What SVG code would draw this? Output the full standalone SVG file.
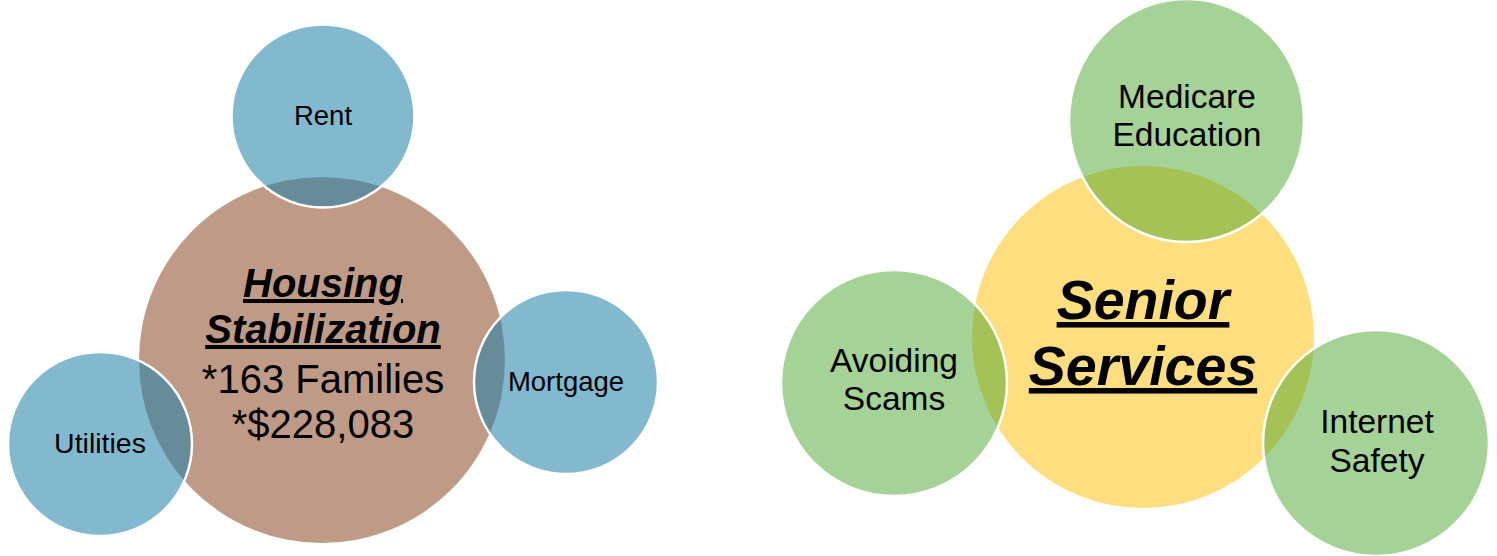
<svg xmlns="http://www.w3.org/2000/svg" width="1497" height="556" viewBox="0 0 1497 556">
<style>
.t{font-family:"Liberation Sans",Arial,sans-serif;fill:#000;text-anchor:middle}
.h{font-family:"Liberation Sans",Arial,sans-serif;font-weight:bold;font-style:italic;text-decoration:underline;fill:#000;text-anchor:middle}
.blue{fill:#1E7FA7;fill-opacity:0.55;stroke:#fff;stroke-width:2.5}
.green{fill:#4BA52D;fill-opacity:0.5;stroke:#fff;stroke-width:2.5}
</style>
<rect width="1497" height="556" fill="#fff"/>
<g id="housing">
<circle cx="322" cy="360" r="183" fill="#BF9A87"/>
<text class="h" x="323" y="297" font-size="40">Housing</text>
<text class="h" x="323" y="343" font-size="40">Stabilization</text>
<text class="t" x="323" y="393" font-size="40">*163 Families</text>
<text class="t" x="323" y="438" font-size="40">*$228,083</text>
</g>
<g id="rent">
<circle class="blue" cx="323" cy="116" r="91.5"/>
<text class="t" x="323" y="125" font-size="27.5">Rent</text>
</g>
<g id="mortgage">
<circle class="blue" cx="566" cy="382" r="92"/>
<text class="t" x="566" y="391" font-size="27.5">Mortgage</text>
</g>
<g id="utilities">
<circle class="blue" cx="100" cy="444" r="92"/>
<text class="t" x="100" y="453" font-size="28.5">Utilities</text>
</g>
<g id="senior">
<circle cx="1143" cy="337" r="171" fill="#FFDE80"/>
<text class="h" x="1143" y="319" font-size="55.5">Senior</text>
<text class="h" x="1143" y="385" font-size="55.5">Services</text>
</g>
<g id="medicare">
<ellipse class="green" cx="1186.5" cy="120.5" rx="117.5" ry="121.5"/>
<text class="t" x="1187" y="108" font-size="33.5">Medicare</text>
<text class="t" x="1187" y="146" font-size="33.5">Education</text>
</g>
<g id="scams">
<circle class="green" cx="894" cy="383" r="113"/>
<text class="t" x="894" y="372" font-size="33.5">Avoiding</text>
<text class="t" x="894" y="410" font-size="33.5">Scams</text>
</g>
<g id="internet">
<circle class="green" cx="1376" cy="443" r="113"/>
<text class="t" x="1377" y="433" font-size="33.5">Internet</text>
<text class="t" x="1377" y="472" font-size="33.5">Safety</text>
</g>
<g id="connectors"></g>
</svg>
